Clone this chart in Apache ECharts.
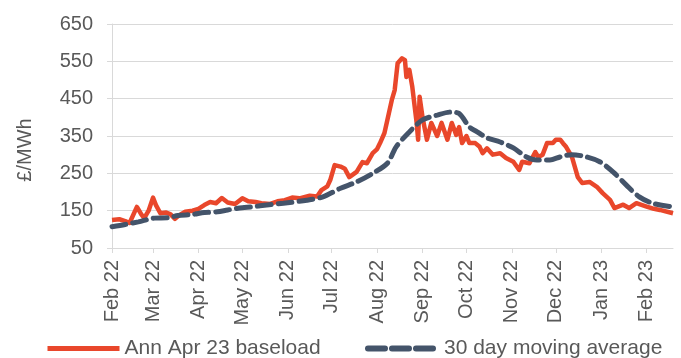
<!DOCTYPE html>
<html>
<head>
<meta charset="utf-8">
<script src="https://cdn.jsdelivr.net/npm/echarts@6/dist/echarts.min.js"></script>
<style>
  html, body { margin: 0; padding: 0; background: #fff; }
  #chart { width: 681px; height: 358px; }
</style>
</head>
<body>
<div id="chart"></div>
<script>
// Ann Apr 23 baseload contract price, £/MWh
const baseloadDates = [
  '2022-02-01','2022-02-06','2022-02-10','2022-02-13','2022-02-18','2022-02-21','2022-02-23','2022-02-26',
  '2022-03-01','2022-03-03','2022-03-06','2022-03-10','2022-03-13','2022-03-16','2022-03-19','2022-03-23','2022-03-28',
  '2022-04-01','2022-04-05','2022-04-09','2022-04-13','2022-04-17','2022-04-21','2022-04-26',
  '2022-05-01','2022-05-05','2022-05-10','2022-05-14','2022-05-20','2022-05-25','2022-05-30',
  '2022-06-04','2022-06-09','2022-06-16','2022-06-21','2022-06-24','2022-06-28','2022-06-30',
  '2022-07-03','2022-07-07','2022-07-10','2022-07-13','2022-07-18','2022-07-22','2022-07-25','2022-07-29',
  '2022-08-01','2022-08-03','2022-08-06','2022-08-08','2022-08-11','2022-08-13','2022-08-15','2022-08-16',
  '2022-08-18','2022-08-20','2022-08-21','2022-08-23','2022-08-25','2022-08-28','2022-08-29','2022-08-30',
  '2022-09-01','2022-09-04','2022-09-07','2022-09-11','2022-09-14','2022-09-18','2022-09-21','2022-09-24',
  '2022-09-26','2022-09-28','2022-10-01','2022-10-03','2022-10-07','2022-10-10','2022-10-12','2022-10-15',
  '2022-10-19','2022-10-24','2022-10-28','2022-11-02','2022-11-06','2022-11-08','2022-11-13','2022-11-17',
  '2022-11-19','2022-11-22','2022-11-25','2022-11-29','2022-12-01','2022-12-04','2022-12-06','2022-12-08',
  '2022-12-12','2022-12-16','2022-12-19','2022-12-24','2022-12-29','2023-01-02','2023-01-07','2023-01-10',
  '2023-01-16','2023-01-20','2023-01-25','2023-02-01','2023-02-06','2023-02-10','2023-02-19'
];
const baseloadValues = [
  125,127,122,117,160,140,130,150,
  185,165,143,145,140,128,138,147,150,
  155,165,173,170,184,172,168,
  183,175,173,170,168,175,178,
  185,183,190,188,205,215,232,
  272,268,262,240,254,280,277,304,
  315,331,358,393,446,473,545,550,
  558,553,508,527,482,385,340,455,
  400,340,385,350,385,340,385,353,
  374,331,350,331,331,321,304,317,
  300,304,291,281,259,281,277,307,
  294,300,331,331,340,340,330,321,
  294,240,224,227,214,197,179,157,
  166,157,170,161,155,152,143
];

// 30 day moving average, £/MWh
const averageDates = [
  '2022-02-01','2022-02-10','2022-02-19','2022-03-02','2022-03-11','2022-03-18','2022-03-28',
  '2022-04-05','2022-04-14','2022-04-21','2022-05-01','2022-05-07','2022-05-13','2022-05-29',
  '2022-06-14','2022-06-25','2022-07-07','2022-07-18','2022-07-29','2022-08-08','2022-08-14',
  '2022-08-23','2022-09-01','2022-09-11','2022-09-20','2022-09-26','2022-10-03','2022-10-08',
  '2022-10-15','2022-10-24','2022-11-02','2022-11-11','2022-11-18','2022-11-27','2022-12-04',
  '2022-12-12','2022-12-22','2022-12-31','2023-01-09','2023-01-18','2023-01-27','2023-02-05','2023-02-17'
];
const averageValues = [
  107,113,120,130,131,137,140,
  145,147,152,158,160,163,170,
  178,187,210,227,250,277,321,
  361,393,406,414,410,374,362,
  345,334,318,294,286,286,294,
  300,294,281,254,219,187,170,161
];

const monthNames = ['Jan','Feb','Mar','Apr','May','Jun','Jul','Aug','Sep','Oct','Nov','Dec'];
const yTicks = { min: 50, max: 650, step: 100 };

const pair = (dates, values) => dates.map((d, i) => [d, values[i]]);

const textColor = '#595959';
const gridColor = '#d9d9d9';
const redColor = '#E9472B';
const slateColor = '#44546A';
const font = 'Liberation Sans, Arial, sans-serif';

const chart = echarts.init(document.getElementById('chart'));
chart.setOption({
  animation: false,
  backgroundColor: '#ffffff',
  grid: { left: 112, right: 8, top: 24, bottom: 110 },
  legend: [
    {
      data: ['Ann Apr 23 baseload'],
      left: 40, top: 333,
      itemWidth: 72, itemHeight: 14, itemGap: 0,
      itemStyle: { opacity: 0 },
      lineStyle: { width: 5, color: redColor },
      textStyle: { color: textColor, fontSize: 21, fontFamily: font }
    },
    {
      data: ['30 day moving average'],
      left: 360, top: 333,
      itemWidth: 71, itemHeight: 14, itemGap: 0,
      itemStyle: { opacity: 0 },
      lineStyle: { width: 6, color: slateColor, type: [17, 7], cap: 'round' },
      textStyle: { color: textColor, fontSize: 21, fontFamily: font }
    }
  ],
  graphic: [{
    type: 'text',
    x: 15, y: 150,
    rotation: Math.PI / 2,
    style: {
      text: '£/MWh', fill: textColor, font: '20px ' + font,
      align: 'center', verticalAlign: 'top'
    }
  }],
  xAxis: {
    type: 'time',
    min: '2022-02-01',
    max: '2023-02-19',
    minInterval: 28 * 86400000,
    maxInterval: 31 * 86400000,
    axisLine: { show: true, lineStyle: { color: gridColor } },
    axisTick: { show: true, length: 5, lineStyle: { color: gridColor } },
    splitLine: { show: false },
    axisLabel: {
      rotate: 90,
      margin: 12,
      color: textColor,
      fontSize: 20,
      fontFamily: font,
      showMaxLabel: false,
      hideOverlap: false,
      formatter: function (v) {
        const d = new Date(v);
        return monthNames[d.getMonth()] + ' ' + String(d.getFullYear()).slice(2);
      }
    }
  },
  yAxis: {
    type: 'value',
    min: yTicks.min,
    max: yTicks.max,
    interval: yTicks.step,
    axisLine: { show: true, lineStyle: { color: gridColor } },
    axisTick: { show: true, length: 5, lineStyle: { color: gridColor } },
    splitLine: { show: true, lineStyle: { color: gridColor, width: 1 } },
    axisLabel: { color: textColor, fontSize: 20, fontFamily: font, margin: 19 }
  },
  series: [
    {
      name: 'Ann Apr 23 baseload',
      type: 'line',
      data: pair(baseloadDates, baseloadValues),
      symbol: 'none',
      color: redColor,
      lineStyle: { color: redColor, width: 4.5, join: 'round' }
    },
    {
      name: '30 day moving average',
      type: 'line',
      data: pair(averageDates, averageValues),
      symbol: 'none',
      smooth: 0.3,
      color: slateColor,
      lineStyle: { color: slateColor, width: 5, type: [14, 7], cap: 'round' }
    }
  ]
});
</script>
</body>
</html>
